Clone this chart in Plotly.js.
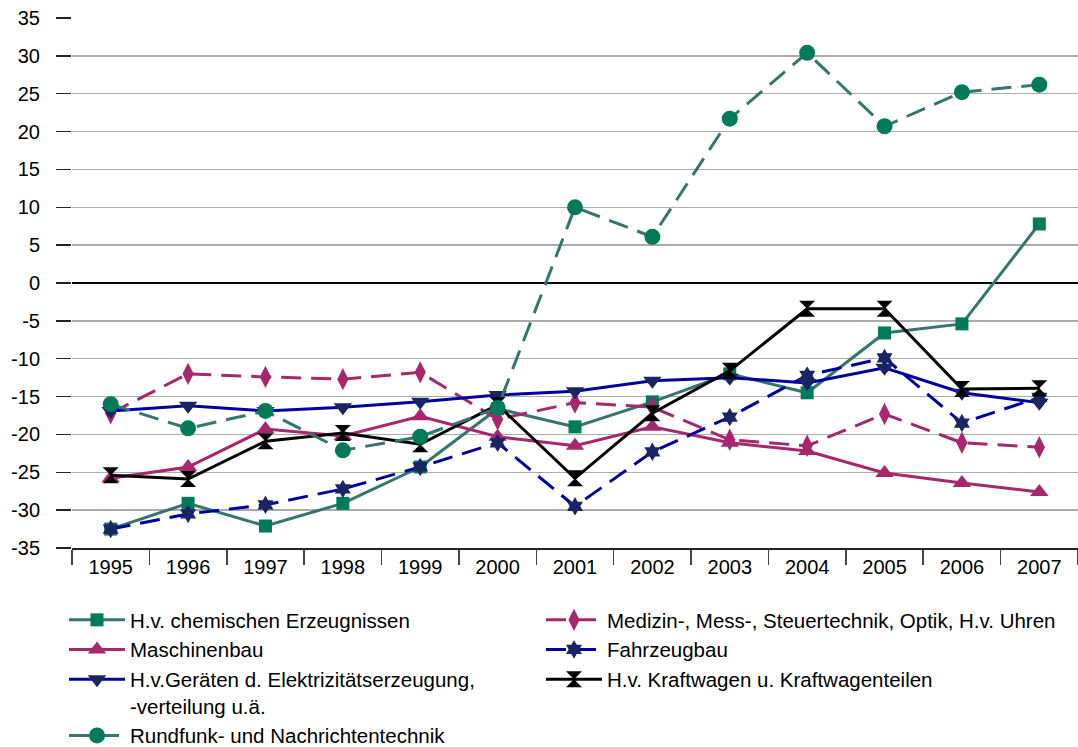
<!DOCTYPE html>
<html>
<head>
<meta charset="utf-8">
<script src="https://cdn.plot.ly/plotly-3.0.1.min.js"></script>
<style>html,body{margin:0;padding:0;background:#fff;}#chart{width:1078px;height:747px;}</style>
</head>
<body>
<div id="chart"></div>
<script>
const years = ["1995","1996","1997","1998","1999","2000","2001","2002","2003","2004","2005","2006","2007"];

const chemName = "H.v. chemischen Erzeugnissen";
const chem = [-32.5, -29.1, -32.1, -29.1, -24.3, -16.6, -19.0, -15.7, -12.0, -14.5, -6.6, -5.4, 7.8];

const medName = "Medizin-, Mess-, Steuertechnik, Optik, H.v. Uhren";
const med = [-17.2, -12.0, -12.4, -12.7, -11.8, -18.0, -15.8, -16.4, -20.7, -21.5, -17.3, -21.1, -21.7];

const maschName = "Maschinenbau";
const masch = [-25.8, -24.3, -19.3, -20.2, -17.6, -20.3, -21.5, -19.0, -21.1, -22.2, -25.1, -26.4, -27.6];

const fahrName = "Fahrzeugbau";
const fahr = [-32.5, -30.5, -29.3, -27.2, -24.3, -21.1, -29.5, -22.3, -17.7, -12.2, -9.9, -18.5, -15.1];

const elekName = "H.v.Geräten d. Elektrizitätserzeugung,<br>-verteilung u.ä.";
const elek = [-16.9, -16.2, -16.9, -16.4, -15.7, -14.8, -14.3, -12.9, -12.5, -13.2, -11.2, -14.5, -15.8];

const kfzName = "H.v. Kraftwagen u. Kraftwagenteilen";
const kfz = [-25.4, -25.9, -20.9, -19.8, -21.3, -16.1, -25.8, -17.2, -11.6, -3.4, -3.4, -14.0, -13.9];

const funkName = "Rundfunk- und Nachrichtentechnik";
const funk = [-16.0, -19.2, -16.9, -22.1, -20.3, -16.5, 10.0, 6.1, 21.7, 30.4, 20.7, 25.2, 26.2];

const yTicks = [35, 30, 25, 20, 15, 10, 5, 0, -5, -10, -15, -20, -25, -30, -35];

const TEAL = "#347570", GREEN = "#007a5a", MAG = "#a8266e", NAVYL = "#0000a0", NAVYM = "#1b2463";
const DASH = "20px,10px";

function tr(name, y, lineColor, dash, symbol, size, mColor, leg) {
  return {
    type: "scatter", mode: "lines+markers", x: years, y: y, name: name,
    line: {color: lineColor, width: 3, dash: dash},
    marker: {symbol: symbol, size: size, color: mColor, line: {width: 0}},
    cliponaxis: false, legend: leg
  };
}

const data = [
  tr(chemName, chem, TEAL, "solid", "square", 13, GREEN, "legend"),
  tr(medName, med, MAG, DASH, "diamond-tall", 16, MAG, "legend2"),
  tr(maschName, masch, MAG, "solid", "triangle-up", 16, MAG, "legend"),
  tr(fahrName, fahr, NAVYL, DASH, "hexagram", 14, NAVYM, "legend2"),
  tr(elekName, elek, NAVYL, "solid", "triangle-down", 16, NAVYM, "legend"),
  tr(kfzName, kfz, "#000000", "solid", "hourglass", 16, "#000000", "legend2"),
  tr(funkName, funk, TEAL, DASH, "circle", 16, GREEN, "legend")
];

const FONT = {family: "Liberation Sans, Arial, sans-serif", size: 20, color: "#000"};
const LFONT = {family: "Liberation Sans, Arial, sans-serif", size: 20.5, color: "#000"};

const PLOT_L = 72, PLOT_W = 1078 - 72;
function leg(px) {
  return {
    orientation: "v", xref: "paper", yref: "container",
    x: (px - PLOT_L) / PLOT_W, xanchor: "left", y: 1 - 600 / 747, yanchor: "top",
    itemwidth: 56, font: LFONT, bgcolor: "rgba(0,0,0,0)", traceorder: "normal",
    valign: "top"
  };
}

const layout = {
  width: 1078, height: 747,
  margin: {l: 72, r: 0, t: 18, b: 199},
  paper_bgcolor: "#fff", plot_bgcolor: "#fff",
  font: FONT,
  showlegend: true,
  xaxis: {
    type: "category", range: [-0.5, 12.5],
    tickson: "boundaries", ticks: "outside", ticklen: 15, tickcolor: "#444", tickwidth: 1.5,
    showline: true, linecolor: "#222", linewidth: 1.5,
    showgrid: false, zeroline: false, fixedrange: true,
    tickfont: FONT
  },
  yaxis: {
    range: [-35, 35], tickvals: yTicks, ticktext: yTicks.map(String),
    ticks: "outside", ticklen: 15, tickcolor: "#222", tickwidth: 1.5,
    showline: false, showgrid: true, gridcolor: "#ababab", gridwidth: 1.5,
    zeroline: true, zerolinecolor: "#000", zerolinewidth: 1.5,
    ticklabelstandoff: 12, tickfont: FONT, fixedrange: true
  },
  legend: leg(64),
  legend2: leg(541)
};

Plotly.newPlot("chart", data, layout, {displayModeBar: false, staticPlot: true});
</script>
</body>
</html>
